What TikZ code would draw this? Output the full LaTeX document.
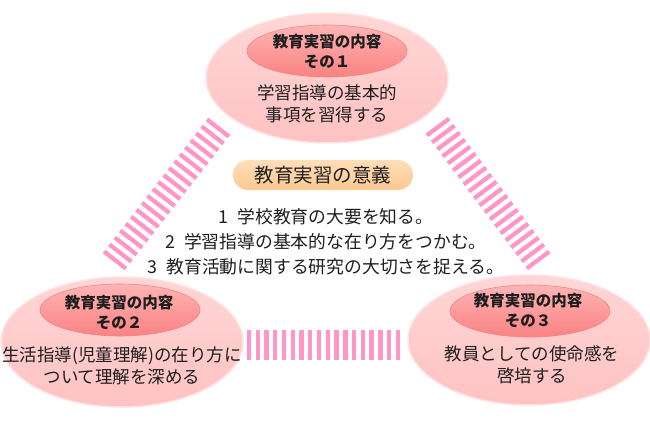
\documentclass[tikz,border=0pt]{standalone}
\usepackage{fontspec}
\setmainfont{Noto Sans CJK JP}
\usetikzlibrary{shapes.geometric,calc}
\definecolor{txt}{RGB}{30,30,30}
\definecolor{stripecol}{RGB}{255,150,200}
\definecolor{outerTop}{RGB}{255,214,214}
\definecolor{outerBot}{RGB}{255,194,194}
\definecolor{outerRim}{RGB}{255,226,226}
\definecolor{innerTop}{RGB}{255,180,180}
\definecolor{innerBot}{RGB}{250,130,130}
\definecolor{innerRim}{RGB}{240,135,135}
\definecolor{pillTop}{RGB}{255,222,185}
\definecolor{pillBot}{RGB}{255,200,145}
\tikzset{
  outerell/.style={ellipse, minimum width=242pt, minimum height=130pt, inner sep=0pt,
    top color=outerTop, bottom color=outerBot, draw=outerRim, line width=1.5pt},
  innerell/.style={ellipse, minimum width=160pt, minimum height=52pt, inner sep=0pt,
    top color=innerTop, bottom color=innerBot, draw=innerRim, line width=0.6pt},
  head/.style={align=center, text=txt, font=\bfseries\fontsize{15.5}{20}\selectfont, inner sep=0pt},
  body/.style={align=center, text=txt, font=\fontsize{17.5}{22.5}\selectfont, inner sep=0pt},
  pill/.style={rounded corners=15pt, minimum width=180pt, minimum height=30pt, inner sep=0pt,
    top color=pillTop, bottom color=pillBot, text=txt, font=\fontsize{19.5}{22}\selectfont},
  stripe/.style={draw=stripecol, line width=4.3pt},
}
\begin{document}
\begin{tikzpicture}[x=1pt,y=-1pt]
\useasboundingbox (0,0) rectangle (650,422);
% stripes
\coordinate (LA) at (218,128);
\coordinate (LB) at (115,260);
\coordinate (RA) at (438,127);
\coordinate (RB) at (538,260);
\foreach \i in {0,...,19}{
  \draw[stripe] ($(LA)!\i/19!(LB)$) ++(-11,-8.6) -- ++(22,17.2);
  \draw[stripe] ($(RA)!\i/19!(RB)$) ++(-11.2,8.4) -- ++(22.4,-16.8);
}
\foreach \i in {0,...,17}{
  \draw[stripe] ({249+\i*8.76},330) -- ({249+\i*8.76},360);
}
% ellipses
\node[outerell] (o1) at (327,78) {};
\node[innerell] (i1) at (327,51) {};
\node[outerell] (o2) at (122,342) {};
\node[innerell] (i2) at (120,310) {};
\node[outerell] (o3) at (529,340) {};
\node[innerell] (i3) at (530,311) {};
% texts
\node[head] (h1) at (327,51) {教育実習の内容\\その１};
\node[body] (b1) at (327,104) {学習指導の基本的\\事項を習得する};
\node[head] (h2) at (119,312) {教育実習の内容\\その２};
\node[body] (b2) at (122,366) {生活指導(児童理解)の在り方に\\ついて理解を深める};
\node[head] (h3) at (528,310) {教育実習の内容\\その３};
\node[body] (b3) at (532,365) {教員としての使命感を\\啓培する};
\node[pill] (p) at (323,175) {教育実習の意義};
\node[align=center, text=txt, font=\fontsize{17.8}{25}\selectfont, inner sep=0pt] (list) at (326,242)
  {1\hspace{0.5em}学校教育の大要を知る。\\2\hspace{0.5em}学習指導の基本的な在り方をつかむ。\\3\hspace{0.5em}教育活動に関する研究の大切さを捉える。};
\end{tikzpicture}
\end{document}
